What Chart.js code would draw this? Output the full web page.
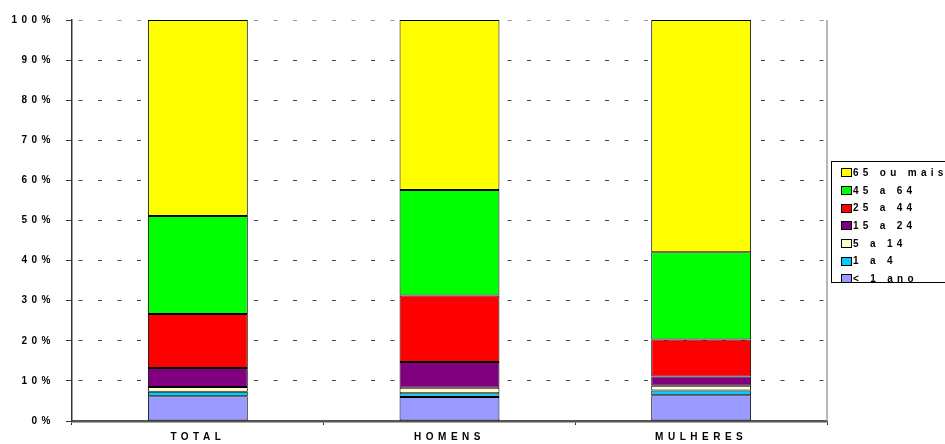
<!DOCTYPE html>
<html>
<head>
<meta charset="utf-8">
<script src="https://cdn.jsdelivr.net/npm/chart.js@4/dist/chart.umd.min.js"></script>
<style>
  html, body {
    margin: 0;
    padding: 0;
    background: #fff;
    overflow: hidden;
  }
  #wrap {
    position: relative;
    width: 945px;
    height: 444px;
  }
  #legend {
    position: absolute;
    left: 831px;
    top: 161px;
    width: 130px;
    height: 122px;
    border: 1px solid #000;
    box-sizing: border-box;
    padding-top: 2px;
    font-family: "Liberation Sans", Arial, sans-serif;
    font-weight: bold;
    font-size: 10px;
    letter-spacing: 4.3px;
    white-space: nowrap;
  }
  .item {
    height: 17.7px;
    line-height: 17.7px;
    display: flex;
    align-items: center;
  }
  .box {
    width: 9px;
    height: 7px;
    border: 1px solid #000;
    margin-left: 9px;
    margin-right: 1px;
    flex: none;
  }
</style>
</head>
<body>
<div id="wrap">
  <canvas id="chart" width="945" height="444"></canvas>
  <div id="legend"></div>
</div>
<script>
const categories = ["TOTAL", "HOMENS", "MULHERES"];

// percent share of each age group, bottom to top of the stack
const menos1ano = [6.2, 6.0, 6.4];
const de1a4 = [1.1, 0.9, 1.2];
const de5a14 = [1.2, 1.4, 1.2];
const de15a24 = [4.7, 6.4, 2.3];
const de25a44 = [13.5, 16.6, 9.2];
const de45a64 = [24.4, 26.3, 21.8];
const de65mais = [48.9, 42.4, 57.9];

const seriesNames = ["< 1 ano", "1 a 4", "5 a 14", "15 a 24", "25 a 44", "45 a 64", "65 ou mais"];
const seriesData = [menos1ano, de1a4, de5a14, de15a24, de25a44, de45a64, de65mais];
const seriesColors = ["#9999FF", "#00CCFF", "#FFFFCC", "#800080", "#FF0000", "#00FF00", "#FFFF00"];

const yTicks = [0, 10, 20, 30, 40, 50, 60, 70, 80, 90, 100];

let datasets = [];
for (let i = 0; i < seriesNames.length; i++) {
  datasets.push({
    label: seriesNames[i],
    data: seriesData[i],
    backgroundColor: seriesColors[i],
    borderColor: "#000",
    borderWidth: 1,
    borderSkipped: false,
    categoryPercentage: 1,
    barPercentage: 0.397,
  });
}

// letter spaced bold text like the original
const spacing = {
  id: "spacing",
  beforeLayout(chart) {
    chart.ctx.letterSpacing = "4.5px";
  },
  beforeDraw(chart) {
    chart.ctx.letterSpacing = "4.5px";
  },
};

// light gray right border of the plot area
const plotBorder = {
  id: "plotBorder",
  afterDraw(chart) {
    const a = chart.chartArea;
    const ctx = chart.ctx;
    ctx.save();
    ctx.strokeStyle = "#a0a0a0";
    ctx.lineWidth = 1.5;
    ctx.beginPath();
    ctx.moveTo(a.right, a.top);
    ctx.lineTo(a.right, a.bottom);
    ctx.stroke();
    ctx.restore();
  },
};

new Chart(document.getElementById("chart").getContext("2d"), {
  type: "bar",
  data: {
    labels: categories,
    datasets: datasets,
  },
  options: {
    responsive: false,
    animation: false,
    layout: {
      padding: { top: 20, right: 118, left: 0, bottom: 0 },
    },
    plugins: {
      legend: { display: false },
      tooltip: { enabled: false },
    },
    scales: {
      x: {
        stacked: true,
        afterFit(scale) {
          scale.height = 23;
        },
        grid: {
          display: true,
          drawOnChartArea: false,
          tickLength: 4,
          tickColor: "#333",
          offset: true,
        },
        border: { display: true, color: "#555", width: 2.5 },
        ticks: {
          padding: 6,
          color: "#000",
          font: { family: "Liberation Sans", size: 10, weight: "bold" },
        },
      },
      y: {
        stacked: true,
        min: 0,
        max: 100,
        afterFit(scale) {
          scale.width = 72;
        },
        afterBuildTicks(scale) {
          scale.ticks = yTicks.map((v) => ({ value: v }));
        },
        grid: {
          color: (c) => (c.tick && c.tick.value === 100 ? "#999" : c.tick && c.tick.value === 0 ? "rgba(0,0,0,0)" : "#444"),
          lineWidth: 1,
          tickLength: 6,
          tickColor: "#333",
          tickBorderDash: [],
        },
        border: { display: true, color: "#333", width: 1.5, dash: [4, 15.5], dashOffset: -6 },
        ticks: {
          padding: 11,
          color: "#000",
          font: { family: "Liberation Sans", size: 10, weight: "bold" },
          callback: (v) => v + "%",
        },
      },
    },
  },
  plugins: [spacing, plotBorder],
});

// legend, top item is the top of the stack
let legend = document.getElementById("legend");
for (let i = seriesNames.length - 1; i >= 0; i--) {
  let item = document.createElement("div");
  item.className = "item";
  let box = document.createElement("span");
  box.className = "box";
  box.style.background = seriesColors[i];
  let text = document.createElement("span");
  text.textContent = seriesNames[i];
  item.appendChild(box);
  item.appendChild(text);
  legend.appendChild(item);
}
</script>
</body>
</html>
